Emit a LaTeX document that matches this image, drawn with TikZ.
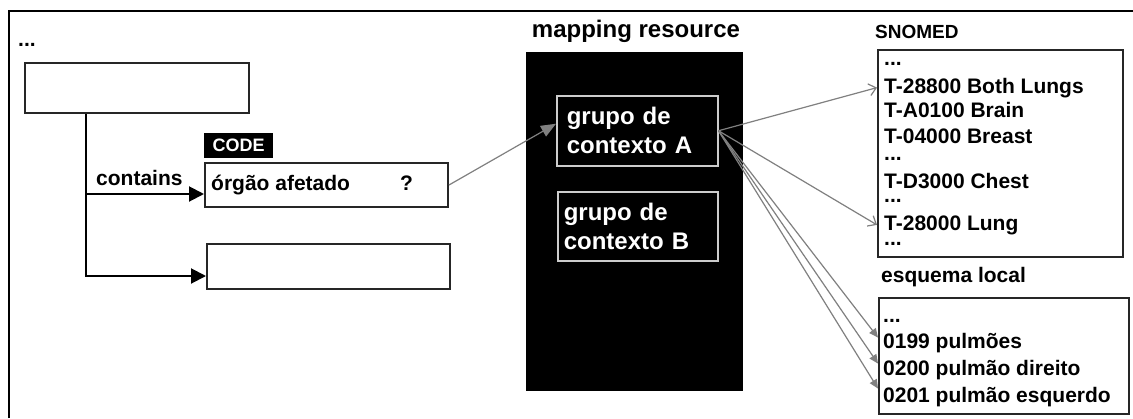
\documentclass[tikz,border=0pt]{standalone}
\usepackage{fontspec}
\setmainfont{Liberation Sans}
\usetikzlibrary{arrows.meta}

\begin{document}
\begin{tikzpicture}[
        x=1pt, y=-1pt,
        every node/.style={inner sep=0pt},
        txt/.style={anchor=base west, font=\fontsize{21}{21}\selectfont\bfseries},
        box/.style={draw=black!85, line width=2pt, anchor=north west},
        grp/.style={draw=white!80!black, line width=1.5pt, anchor=north west, text=white,
            align=left, font=\fontsize{24}{29}\selectfont\bfseries},
        link/.style={draw=black!50, line width=1.2pt}
        ]
        \useasboundingbox (0,0) rectangle (1133,418);
        \fill[white] (0,0) rectangle (1133,418);
        \draw[line width=2.5pt] (9,418) -- (9,11) -- (1133,11);

        % left side
        \node[txt] (dots) at (18,46) {...};
        \node[box, minimum width=224pt, minimum height=50pt] (top) at (24,62) {};
        \node[box, minimum width=243pt, minimum height=44pt] (organ) at (204,162) {};
        \node[box, minimum width=243pt, minimum height=45pt] (empty) at (206,243) {};
        \node[fill=black, text=white, anchor=south west, minimum width=69pt, minimum height=25pt,
            font=\fontsize{18}{18}\selectfont\bfseries] (code) at (204,158) {CODE};
        \node[txt] (organtxt) at (211,190) {órgão afetado};
        \node[txt] (quest) at (400,190) {?};
        \node[txt] (contains) at (96,185) {contains};

        \coordinate (fork) at (86,0);
        \coordinate (in1) at ([yshift=-9pt]organ.west);
        \coordinate (in2) at ([yshift=-9.5pt]empty.west);
        \draw[line width=2pt, -{Triangle[length=15pt,width=15pt]}] (top.south -| fork) |- (in2);
        \draw[line width=2pt, -{Triangle[length=15pt,width=15pt]}] (fork |- in1) -- (in1);

        % mapping resource
        \node[anchor=base, font=\fontsize{24}{24}\selectfont\bfseries] (maptitle) at (636,37) {mapping resource};
        \node[fill=black, anchor=north west, minimum width=217pt, minimum height=339pt] (map) at (526,52) {};
        \node[grp, inner xsep=10pt, text width=141pt, minimum height=70pt] (grpA) at (556,95) {grupo de\\contexto A};
        \node[grp, inner xsep=6pt, text width=148pt, minimum height=69pt] (grpB) at (557,191) {grupo de\\contexto B};

        % SNOMED
        \node[txt, font=\fontsize{19}{19}\selectfont\bfseries] (snomedtitle) at (875,38) {SNOMED};
        \node[box, minimum width=245pt, minimum height=207pt] (snomed) at (877,49) {};
        \node[txt] (snDotsA) at (884,65) {...};
        \node[txt] (snBoth) at (884,93) {T-28800 Both Lungs};
        \node[txt] (snBrain) at (884,117) {T-A0100 Brain};
        \node[txt] (snBreast) at (884,143) {T-04000 Breast};
        \node[txt] (snDotsB) at (884,160) {...};
        \node[txt] (snChest) at (884,188) {T-D3000 Chest};
        \node[txt] (snDotsC) at (884,202) {...};
        \node[txt] (snLung) at (884,230) {T-28000 Lung};
        \node[txt] (snDotsD) at (884,245) {...};

        % esquema local
        \node[txt] (esqtitle) at (881,282) {esquema local};
        \node[box, minimum width=250pt, minimum height=116pt] (esq) at (878,297) {};
        \node[txt] (esDots) at (883,322) {...};
        \node[txt] (esPulm) at (883,348) {0199 pulmões};
        \node[txt] (esDir) at (883,375) {0200 pulmão direito};
        \node[txt] (esEsq) at (883,402) {0201 pulmão esquerdo};

        % mappings
        \draw[link, -{Triangle[length=15pt,width=12pt]}] (organ.east) -- ([yshift=7pt]grpA.west);
        \draw[link, -{Straight Barb[length=7pt,width=12pt]}] (grpA.east) -- (snBoth.west -| snomed.west);
        \draw[link, -{Straight Barb[length=7pt,width=12pt]}] (grpA.east) -- (snLung.west -| snomed.west);
        \draw[link, -{Triangle[length=9pt,width=8pt]}] (grpA.east) -- ([yshift=5pt]esPulm.west -| esq.west);
        \draw[link, -{Triangle[length=9pt,width=8pt]}] (grpA.east) -- ([yshift=6pt]esDir.west -| esq.west);
        \draw[link, -{Triangle[length=9pt,width=8pt]}] (grpA.east) -- ([yshift=8pt]esEsq.west -| esq.west);
        \end{tikzpicture}
\end{document}
